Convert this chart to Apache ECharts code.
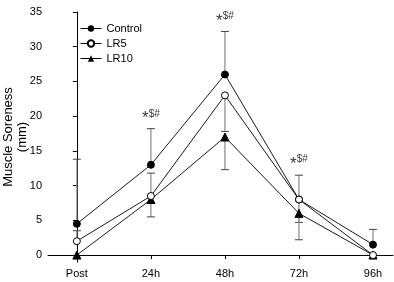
<!DOCTYPE html>
<html>
<head>
<meta charset="utf-8">
<script src="https://cdn.jsdelivr.net/npm/echarts@6/dist/echarts.min.js"></script>
<style>
  html, body { margin: 0; padding: 0; background: #fff; }
  #chart { width: 394px; height: 282px; }
</style>
</head>
<body>
<div id="chart"></div>
<script>
var categories = ['Post', '24h', '48h', '72h', '96h'];
var control = [4.5, 13, 26, 8, 1.5];
var lr5 = [2, 8.5, 23, 8, 0];
var lr10 = [0, 8, 17, 6, 0];
// error bars: [category index, mean, bar end]
var errorBars = [
  [0, 4.5, 13.8], [0, 2, 3.5],
  [1, 13, 18.2], [1, 8.5, 11.8], [1, 8, 5.5],
  [2, 26, 32.2], [2, 23, 17.8], [2, 17, 12.3],
  [3, 8, 11.5], [3, 8, 4.7], [3, 6, 2.2],
  [4, 1.5, 3.7]
];
// significance marks: [category index, y]
var marks = [[1, 20.2], [2, 34.2], [3, 13.6]];
var yTicks = [0, 5, 10, 15, 20, 25, 30, 35];

var chartDom = document.getElementById('chart');
var myChart = echarts.init(chartDom);
var font = 'Liberation Sans, Arial, sans-serif';

function toXY(arr) {
  return arr.map(function (v, i) { return [i, v]; });
}

var option = {
  animation: false,
  grid: { left: 48, right: 1, top: 12, bottom: 20, outerBoundsMode: 'none', containLabel: false },
  legend: {
    orient: 'vertical',
    left: 75,
    top: 18,
    itemWidth: 21,
    itemHeight: 8,
    itemGap: 4,
    lineStyle: { width: 1 },
    textStyle: { fontFamily: font, fontSize: 11, color: '#000' },
    data: ['Control', 'LR5', 'LR10']
  },
  xAxis: {
    type: 'value',
    min: -0.39,
    max: 4.27,
    splitLine: { show: false },
    axisLine: { lineStyle: { color: '#000', width: 1 } },
    axisTick: { show: true, length: 4, customValues: [0, 1, 2, 3, 4], lineStyle: { color: '#000' } },
    axisLabel: {
      customValues: [0, 1, 2, 3, 4],
      fontFamily: font, fontSize: 11, color: '#000', margin: 6,
      formatter: function (v) { return categories[Math.round(v)]; }
    }
  },
  yAxis: {
    type: 'value',
    min: -1,
    max: 35,
    name: 'Muscle Soreness\n(mm)',
    nameLocation: 'middle',
    nameRotate: 90,
    nameGap: 19,
    nameMoveOverlap: false,
    nameTextStyle: { fontFamily: font, fontSize: 13, color: '#000', lineHeight: 14 },
    splitLine: { show: false },
    axisLine: { show: true, lineStyle: { color: '#000', width: 1 } },
    axisTick: { show: true, length: 4, customValues: yTicks, lineStyle: { color: '#000' } },
    axisLabel: { customValues: yTicks, fontFamily: font, fontSize: 11, color: '#000', margin: 6 }
  },
  series: [
    {
      type: 'custom',
      z: 1,
      silent: true,
      data: errorBars,
      renderItem: function (params, api) {
        var p0 = api.coord([api.value(0), api.value(1)]);
        var p1 = api.coord([api.value(0), api.value(2)]);
        return {
          type: 'group',
          children: [
            { type: 'line', shape: { x1: p0[0], y1: p0[1], x2: p1[0], y2: p1[1] }, style: { stroke: '#888', lineWidth: 1.2 } },
            { type: 'line', shape: { x1: p1[0] - 4, y1: p1[1], x2: p1[0] + 4, y2: p1[1] }, style: { stroke: '#444', lineWidth: 1 } }
          ]
        };
      }
    },
    {
      name: 'Control', type: 'line', data: toXY(control), z: 3,
      symbol: 'circle', symbolSize: 7,
      lineStyle: { color: '#000', width: 0.9 },
      itemStyle: { color: '#000', borderColor: '#000' }
    },
    {
      name: 'LR5', type: 'line', data: toXY(lr5), z: 4,
      symbol: 'circle', symbolSize: 7,
      lineStyle: { color: '#000', width: 0.9 },
      itemStyle: { color: '#fff', borderColor: '#000', borderWidth: 1 }
    },
    {
      name: 'LR10', type: 'line', data: toXY(lr10), z: 3,
      symbol: 'triangle', symbolSize: 8,
      lineStyle: { color: '#000', width: 0.9 },
      itemStyle: { color: '#000', borderColor: '#000' }
    },
    {
      type: 'scatter', data: marks, symbolSize: 0, silent: true,
      label: {
        show: true, position: 'inside',
        formatter: '{a|*}{b|$#}',
        rich: {
          a: { fontFamily: font, fontSize: 17, color: '#000', padding: [8, 0, 0, 0] },
          b: { fontFamily: font, fontSize: 10, color: '#000', padding: [0, 0, 2, 0] }
        }
      }
    }
  ]
};
option && myChart.setOption(option);
</script>
</body>
</html>
